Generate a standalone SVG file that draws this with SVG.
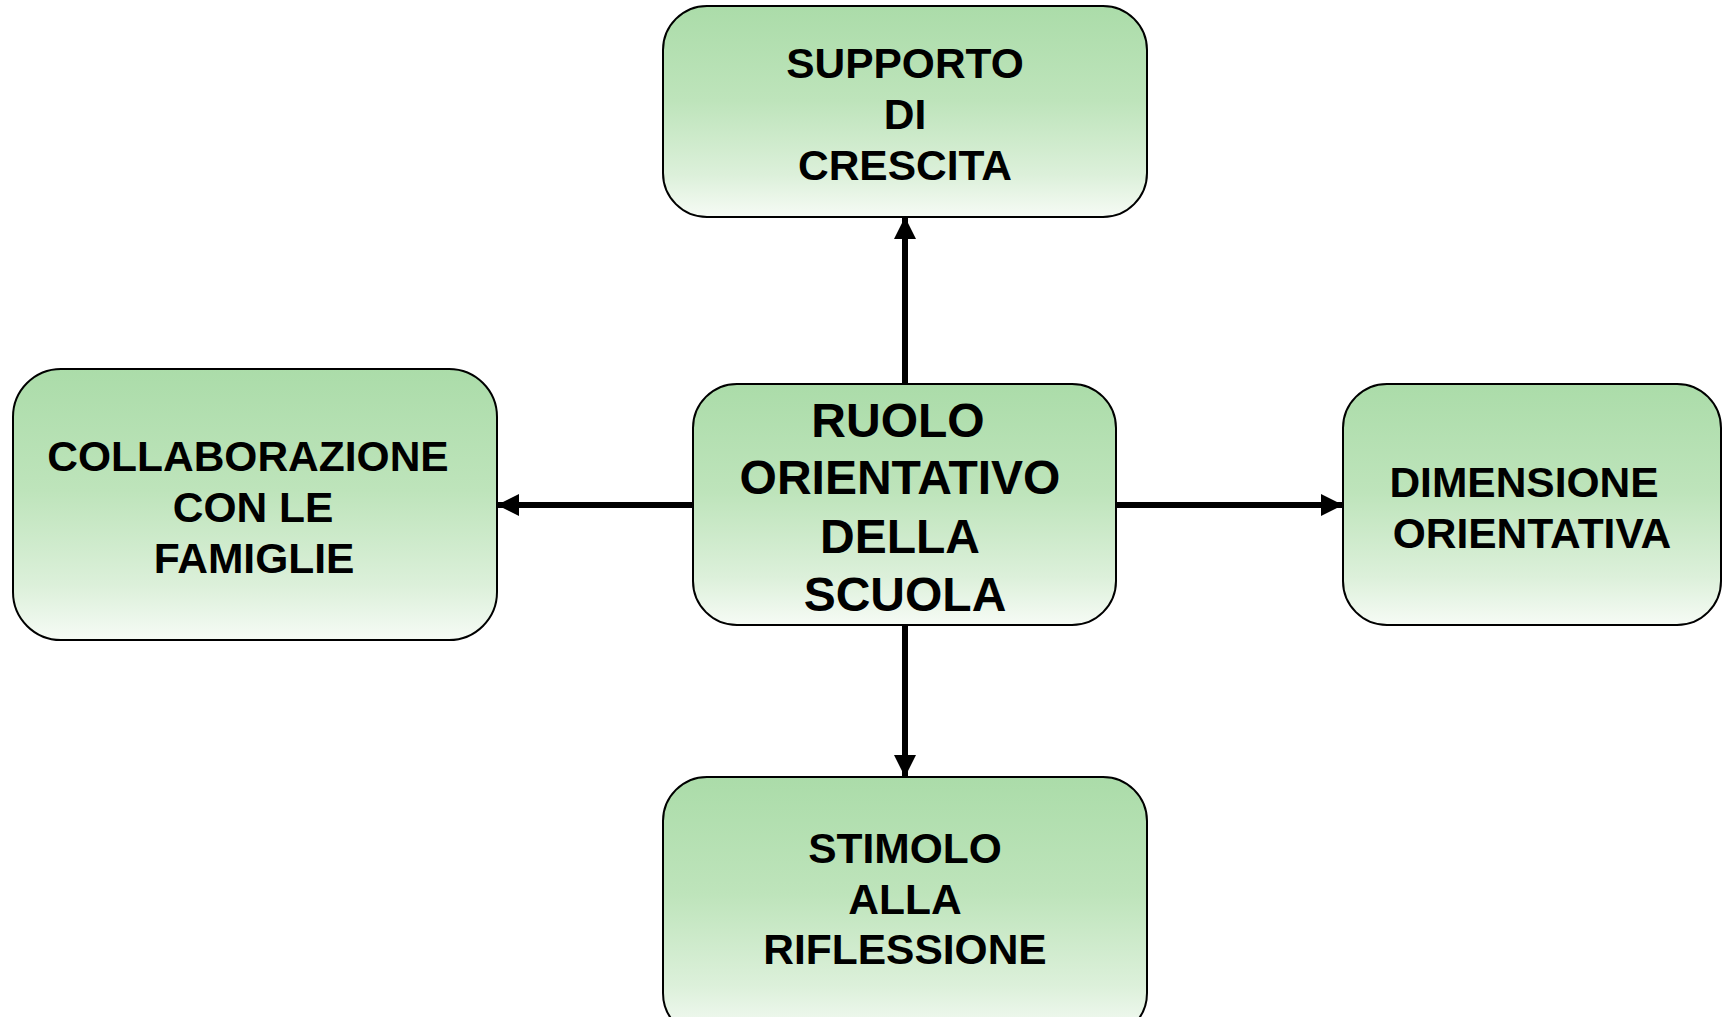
<svg xmlns="http://www.w3.org/2000/svg" width="1729" height="1017" viewBox="0 0 1729 1017">
<style>
.box{fill:url(#g);stroke:#000;stroke-width:2}
.t{font-family:"Liberation Sans",Arial,sans-serif;font-weight:bold;font-size:42.5px;fill:#000;text-anchor:middle}
.tc{font-size:48px}
.c{stroke:#000;stroke-width:6;fill:none;marker-end:url(#a)}
</style>
<defs>
<linearGradient id="g" x1="0" y1="0" x2="0" y2="1">
<stop offset="0" stop-color="#abdca9"/>
<stop offset="0.45" stop-color="#bee4bb"/>
<stop offset="0.8" stop-color="#dcf0da"/>
<stop offset="1" stop-color="#f6fbf5"/>
</linearGradient>
<marker id="a" viewBox="0 0 22 22" refX="21" refY="11" markerWidth="22" markerHeight="22" markerUnits="userSpaceOnUse" orient="auto">
<path d="M0,0 L22,11 L0,22 z" fill="#000"/>
</marker>
</defs>
<g id="connectors">
<line class="c" x1="905" y1="384" x2="905" y2="218"/>
<line class="c" x1="692" y1="505" x2="498" y2="505"/>
<line class="c" x1="1117" y1="505" x2="1342" y2="505"/>
<line class="c" x1="905" y1="626" x2="905" y2="776"/>
</g>
<g id="top">
<rect class="box" x="663" y="6" width="484" height="211" rx="44"/>
<text class="t" x="905" y="78">SUPPORTO</text>
<text class="t" x="905" y="129">DI</text>
<text class="t" x="905" y="180">CRESCITA</text>
</g>
<g id="center">
<rect class="box" x="693" y="384" width="423" height="241" rx="44"/>
<text class="t tc" x="898" y="437">RUOLO</text>
<text class="t tc" x="900" y="494">ORIENTATIVO</text>
<text class="t tc" x="900" y="553">DELLA</text>
<text class="t tc" x="905" y="611">SCUOLA</text>
</g>
<g id="left">
<rect class="box" x="13" y="369" width="484" height="271" rx="48"/>
<text class="t" x="248" y="471">COLLABORAZIONE</text>
<text class="t" x="253" y="522">CON LE</text>
<text class="t" x="254" y="573">FAMIGLIE</text>
</g>
<g id="right">
<rect class="box" x="1343" y="384" width="378" height="241" rx="44"/>
<text class="t" x="1524" y="497">DIMENSIONE</text>
<text class="t" x="1532" y="548">ORIENTATIVA</text>
</g>
<g id="bottom">
<rect class="box" x="663" y="777" width="484" height="260" rx="44"/>
<text class="t" x="905" y="863">STIMOLO</text>
<text class="t" x="905" y="914">ALLA</text>
<text class="t" x="905" y="964">RIFLESSIONE</text>
</g>
</svg>
